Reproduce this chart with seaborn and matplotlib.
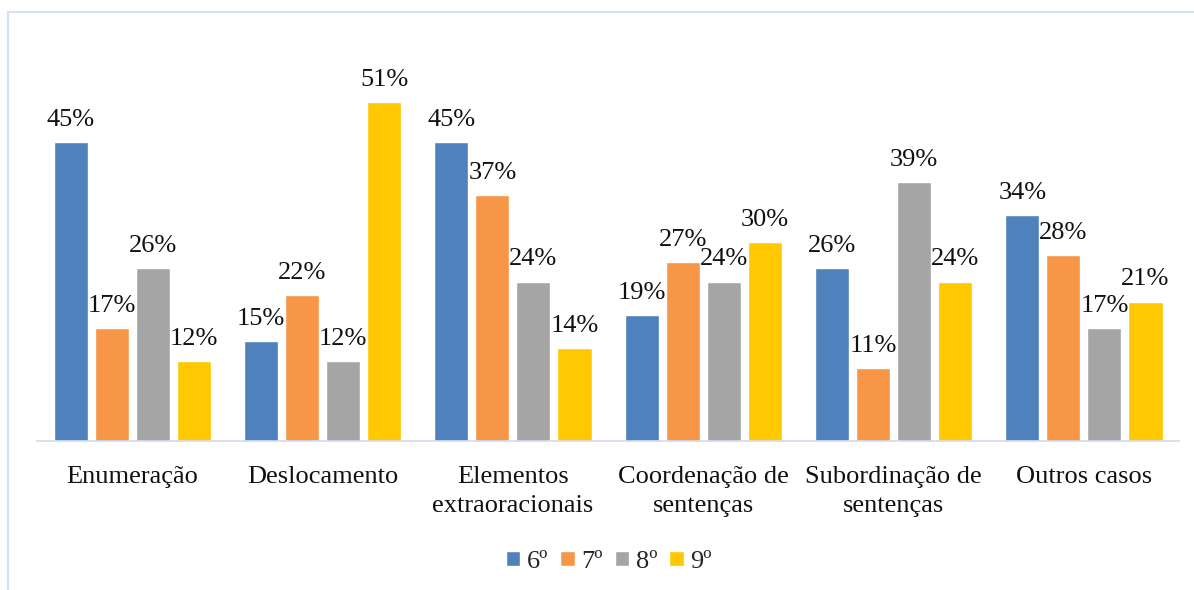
import matplotlib
matplotlib.use("Agg")
import matplotlib.pyplot as plt
import seaborn as sns
import pandas as pd
from matplotlib.patches import Rectangle

categories = ["Enumeração", "Deslocamento", "Elementos\nextraoracionais",
              "Coordenação de\nsentenças", "Subordinação de\nsentenças", "Outros casos"]
series = ["6º", "7º", "8º", "9º"]
v6 = [45, 15, 45, 19, 26, 34]
v7 = [17, 22, 37, 27, 11, 28]
v8 = [26, 12, 24, 24, 39, 17]
v9 = [12, 51, 14, 30, 24, 21]
colors = ["#4f81bd", "#f79646", "#a5a5a5", "#ffc800"]

rows = []
for s, vals in zip(series, [v6, v7, v8, v9]):
    for c, v in zip(categories, vals):
        rows.append({"categoria": c, "ano": s, "valor": v})
df = pd.DataFrame(rows)

sns.set_style("white")
plt.rcParams["font.family"] = ["Liberation Serif", "DejaVu Serif"]

fig = plt.figure(figsize=(11.94, 5.90), dpi=100)
ax = fig.add_axes([0.031, 0.2525, 0.9565, 0.67])

sns.barplot(data=df, x="categoria", y="valor", hue="ano", order=categories,
            hue_order=series, palette=colors, width=0.863, gap=0.17,
            saturation=1, ax=ax, legend=True)

ax.set_ylim(0, 59.5)
ax.set_xlim(-0.5, len(categories) - 0.5)
for cont in ax.containers:
    ax.bar_label(cont, fmt="%d%%", padding=8, fontsize=19, color="#111111")

ax.set_xlabel("")
ax.set_ylabel("")
ax.set_yticks([])
ax.tick_params(axis="x", length=0, labelsize=19, pad=18, colors="#111111")
for lbl in ax.get_xticklabels():
    lbl.set_linespacing(1.4)
for side in ["top", "right", "left"]:
    ax.spines[side].set_visible(False)
ax.spines["bottom"].set_color("#d0dcec")
ax.spines["bottom"].set_linewidth(1.2)

ax.legend(loc="center", bbox_to_anchor=(0.51, 0.048), bbox_transform=fig.transFigure,
          ncol=4, frameon=False, fontsize=19, handlelength=0.55, handleheight=0.55,
          handletextpad=0.25, columnspacing=0.45)

# outer frame
fig.patches.append(Rectangle((8 / 1194, -0.2), 1.2, 1.2 - 12 / 590,
                             transform=fig.transFigure, fill=False,
                             edgecolor="#d6e2f2", linewidth=1.6))

fig.savefig("out.png", dpi=100, facecolor="white")
